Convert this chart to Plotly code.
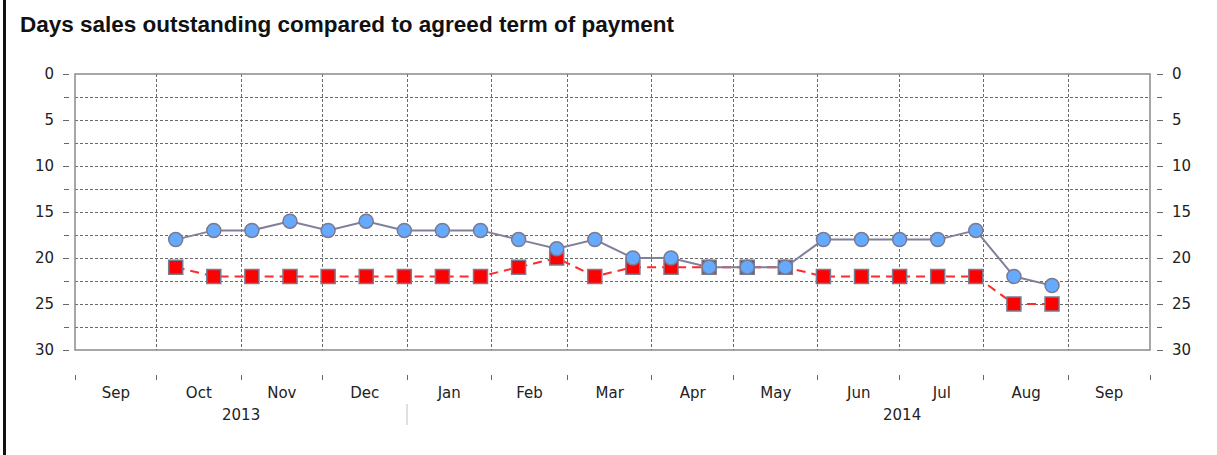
import plotly.graph_objects as go

# ---- data ----
dates = ["2013-10-08", "2013-10-22", "2013-11-05", "2013-11-19", "2013-12-03", "2013-12-17",
         "2013-12-31", "2014-01-14", "2014-01-28", "2014-02-11", "2014-02-25", "2014-03-11",
         "2014-03-25", "2014-04-08", "2014-04-22", "2014-05-06", "2014-05-20", "2014-06-03",
         "2014-06-17", "2014-07-01", "2014-07-15", "2014-07-29", "2014-08-12", "2014-08-26"]
dso_days = [18, 17, 17, 16, 17, 16, 17, 17, 17, 18, 19, 18, 20, 20, 21, 21, 21, 18, 18, 18, 18, 17, 22, 23]
agreed_term = [21, 22, 22, 22, 22, 22, 22, 22, 22, 21, 20, 22, 21, 21, 21, 21, 21, 22, 22, 22, 22, 22, 25, 25]
y_ticks = [0, 5, 10, 15, 20, 25, 30]
x_range = ["2013-09-01", "2014-10-01"]
year_labels = ["2013", "2014"]
year_label_pos = ["2013-11-01", "2014-07-02"]
year_divider = "2014-01-01"
title_text = "Days sales outstanding compared to agreed term of payment"

# ---- geometry (pixels) ----
W, H = 1217, 455
paper_left, paper_right = 69, 1156
plot_left, plot_right = 75, 1150
plot_top, plot_bottom = 74, 350
paper_bottom = 420
pw = paper_right - paper_left
ph = paper_bottom - plot_top

def px_x(p):
    return (p - paper_left) / pw

def px_y(p):
    return (paper_bottom - p) / ph

TITLE_FONT = "Liberation Sans, Arial, sans-serif"
FONT = "DejaVu Sans, Verdana, sans-serif"
GRID = "#6a6a6a"

fig = go.Figure()

fig.add_trace(go.Scatter(
    x=dates, y=agreed_term, mode="lines+markers", name="Agreed term of payment",
    line=dict(color="#ff2a2a", width=2, dash="9px,6px"),
    marker=dict(symbol="square", size=14, color="#ff0000",
                line=dict(color="#7a7a90", width=1.5)),
    xaxis="x", yaxis="y", hoverinfo="x+y"))

fig.add_trace(go.Scatter(
    x=dates, y=dso_days, mode="lines+markers", name="Days sales outstanding",
    line=dict(color="#80809a", width=2),
    marker=dict(symbol="circle", size=14, color="#66aaff",
                line=dict(color="#7a7a90", width=1.5)),
    xaxis="x", yaxis="y", hoverinfo="x+y"))

# invisible helper traces so the secondary axes render
fig.add_trace(go.Scatter(x=[dates[0]], y=[None], xaxis="x2", yaxis="y",
                         showlegend=False, hoverinfo="skip", mode="markers"))
fig.add_trace(go.Scatter(x=[dates[0]], y=[None], xaxis="x", yaxis="y2",
                         showlegend=False, hoverinfo="skip", mode="markers"))

dom_x = [px_x(plot_left), px_x(plot_right)]
dom_y = [px_y(plot_bottom), 1]

yaxis_common = dict(
    range=[30, 0], tickvals=y_ticks, ticks="outside", ticklen=6, tickwidth=1,
    tickcolor="#666", tickfont=dict(family=FONT, size=15, color="#222"),
    showline=False, zeroline=False, domain=dom_y, anchor="free",
    ticklabelstandoff=6,
    minor=dict(dtick=2.5, tick0=0, ticks="outside", ticklen=5, tickcolor="#666"),
)

fig.update_layout(
    width=W, height=H,
    margin=dict(l=paper_left, r=W - paper_right, t=plot_top, b=H - paper_bottom, pad=0),
    paper_bgcolor="white", plot_bgcolor="white",
    showlegend=False,
    xaxis=dict(
        type="date", range=x_range, domain=dom_x, anchor="y",
        dtick="M1", tick0="2013-09-01", showticklabels=False, ticks="",
        showgrid=True, gridcolor=GRID, gridwidth=1, griddash="3px,2px",
        showline=False, zeroline=False,
    ),
    xaxis2=dict(
        type="date", range=x_range, domain=dom_x, anchor="free",
        position=px_y(374), overlaying="x",
        dtick="M1", tick0="2013-09-01", tickformat="%b", ticklabelmode="period",
        ticks="outside", ticklen=5, tickcolor="#666", tickwidth=1,
        tickfont=dict(family=FONT, size=15, color="#222"),
        showgrid=False, showline=False, zeroline=False,
    ),
    yaxis=dict(**yaxis_common, position=0, side="left",
               showgrid=True, gridcolor=GRID, gridwidth=1, griddash="3px,2px"),
    yaxis2=dict(**yaxis_common, position=1, side="right", overlaying="y",
                showgrid=False),
)
fig.update_layout(yaxis_minor=dict(showgrid=True, gridcolor=GRID, gridwidth=1,
                                   griddash="3px,2px"),
                  yaxis2_minor=dict(showgrid=False))

shapes = [
    # plot border
    dict(type="rect", xref="paper", yref="paper", x0=dom_x[0], x1=dom_x[1],
         y0=dom_y[0], y1=dom_y[1], line=dict(color="#8a8a8a", width=1.5), layer="above"),
    # year divider
    dict(type="line", xref="x", yref="paper", x0=year_divider, x1=year_divider,
         y0=px_y(404), y1=px_y(425), line=dict(color="#c0c0c0", width=1), layer="above"),
    # frame left edge
    dict(type="line", xref="paper", yref="paper", x0=px_x(4.5), x1=px_x(4.5),
         y0=px_y(-2), y1=px_y(457), line=dict(color="#111111", width=3), layer="above"),
]
fig.update_layout(shapes=shapes)

annotations = [
    dict(text="<b>" + title_text + "</b>", xref="paper", yref="paper",
         x=px_x(18), y=px_y(24), xanchor="left", yanchor="middle", showarrow=False,
         font=dict(family=TITLE_FONT, size=22.5, color="#111")),
]
for lbl, pos in zip(year_labels, year_label_pos):
    annotations.append(dict(text=lbl, xref="x", yref="paper", x=pos, y=px_y(415),
                            xanchor="center", yanchor="middle", showarrow=False,
                            font=dict(family=FONT, size=15, color="#222")))
fig.update_layout(annotations=annotations)

fig.write_html("out.html", config={"displayModeBar": False},
               post_script="document.body.style.margin='0';document.body.style.overflow='hidden';")
